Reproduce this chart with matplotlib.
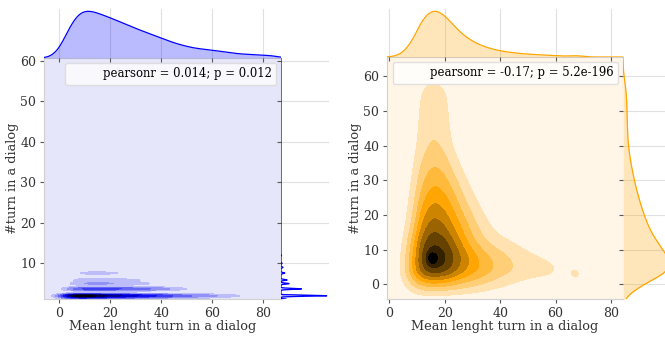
import numpy as np
import matplotlib
matplotlib.use("Agg")
import matplotlib.pyplot as plt
from matplotlib.colors import LinearSegmentedColormap
from matplotlib.lines import Line2D

plt.rcParams['font.family'] = ['DejaVu Serif']

# ---- left panel: weights on a (mean length, #turn) grid ----
left_x = [0, 4, 8, 12, 16, 20, 24, 28, 32, 36, 40, 44, 48, 52, 56, 60, 64, 68, 72, 76, 80, 84]
left_y = [1, 2, 3.7, 5, 5.9, 7.6, 9, 10, 12]
left_w = [
    [0.10, 0.40, 0.50, 0.45, 0.38, 0.34, 0.30, 0.27, 0.24, 0.21, 0.18, 0.15, 0.12, 0.10, 0.08, 0.07, 0.05, 0.03, 0.02, 0.02, 0.01, 0.01],
    [0.20, 0.80, 1.00, 0.92, 0.80, 0.72, 0.66, 0.60, 0.55, 0.50, 0.45, 0.38, 0.33, 0.28, 0.24, 0.21, 0.17, 0.12, 0.08, 0.06, 0.05, 0.04],
    [0.02, 0.25, 0.38, 0.42, 0.42, 0.40, 0.38, 0.35, 0.32, 0.28, 0.24, 0.18, 0.12, 0.06, 0.05, 0.05, 0.05, 0.04, 0.04, 0.04, 0.03, 0.03],
    [0.00, 0.08, 0.18, 0.20, 0.20, 0.19, 0.17, 0.15, 0.12, 0.09, 0.05, 0.03, 0.02, 0.02, 0.02, 0.02, 0.02, 0.02, 0.02, 0.02, 0.02, 0.01],
    [0.00, 0.05, 0.14, 0.16, 0.16, 0.15, 0.13, 0.11, 0.09, 0.05, 0.03, 0.02, 0.02, 0.02, 0.02, 0.02, 0.01, 0.01, 0.01, 0.01, 0.01, 0.01],
    [0.00, 0.01, 0.10, 0.14, 0.14, 0.12, 0.09, 0.03, 0.01, 0.01, 0.01, 0.01, 0.01, 0.01, 0.01, 0.01, 0.01, 0.01, 0.01, 0.01, 0.01, 0.01],
    [0.00, 0.01, 0.03, 0.04, 0.04, 0.04, 0.03, 0.03, 0.02, 0.02, 0.02, 0.01, 0.01, 0.01, 0.01, 0.01, 0.01, 0.01, 0.01, 0.01, 0.01, 0.01],
    [0.00, 0.00, 0.02, 0.03, 0.03, 0.02, 0.02, 0.02, 0.01, 0.01, 0.01, 0.01, 0.01, 0.01, 0.01],
    [0.00, 0.00, 0.01, 0.02, 0.02, 0.02, 0.01, 0.01, 0.01, 0.01],
]
left_stat = "pearsonr = 0.014; p = 0.012"

# ---- right panel ----
right_x = [4, 8, 12, 16, 20, 24, 28, 32, 36, 40, 44, 48, 52, 56, 60, 64]
right_y = [0, 4, 8, 12, 16, 20, 24, 28, 32, 36, 40, 44, 48, 52, 56, 60]
right_w = [
    [0.03, 0.18, 0.30, 0.32, 0.30, 0.27, 0.23, 0.19, 0.15, 0.11, 0.08, 0.05, 0.03, 0.02],
    [0.07, 0.35, 0.70, 0.80, 0.74, 0.60, 0.48, 0.40, 0.33, 0.26, 0.21, 0.18, 0.16, 0.15, 0.13, 0.06],
    [0.05, 0.30, 0.72, 0.85, 0.80, 0.64, 0.50, 0.38, 0.29, 0.23, 0.18, 0.14, 0.11, 0.08, 0.05, 0.02],
    [0.04, 0.26, 0.66, 0.76, 0.70, 0.54, 0.37, 0.25, 0.17, 0.13, 0.10, 0.06, 0.03],
    [0.02, 0.17, 0.54, 0.66, 0.58, 0.45, 0.31, 0.19, 0.11, 0.05, 0.02],
    [0.01, 0.13, 0.45, 0.57, 0.50, 0.37, 0.24, 0.13, 0.06, 0.02],
    [0.01, 0.10, 0.37, 0.48, 0.42, 0.30, 0.17, 0.08, 0.03],
    [0.00, 0.08, 0.30, 0.40, 0.35, 0.23, 0.11, 0.04, 0.01],
    [0.00, 0.06, 0.25, 0.33, 0.28, 0.16, 0.06, 0.02],
    [0.00, 0.04, 0.20, 0.26, 0.22, 0.10, 0.03],
    [0.00, 0.03, 0.16, 0.21, 0.17, 0.05, 0.01],
    [0.00, 0.02, 0.14, 0.19, 0.14, 0.04],
    [0.00, 0.02, 0.13, 0.18, 0.13, 0.03],
    [0.00, 0.01, 0.12, 0.18, 0.12, 0.02],
    [0.00, 0.00, 0.10, 0.17, 0.10, 0.01],
    [0.00, 0.00, 0.02, 0.04, 0.02],
]
# isolated dialog far out in the tail, and the sharp mode
right_out_x = [67.5]
right_out_y = [3]
right_out_w = [0.22]
right_mode_x = [15.5]
right_mode_y = [7.5]
right_mode_w = [0.085]
right_stat = "pearsonr = -0.17; p = 5.2e-196"

xlabel = "Mean lenght turn in a dialog"
ylabel = "#turn in a dialog"


def to_points(xs, ys, table):
    px, py, pw = [], [], []
    for y, row in zip(ys, table):
        for x, w in zip(xs, row):
            if w > 0:
                px.append(x); py.append(y); pw.append(w)
    return px, py, pw


def kde2d(pts, gx, gy):
    X, Y = np.meshgrid(gx, gy)
    z = np.zeros_like(X)
    tot = 0.0
    for x, y, w, bx, by in pts:
        z += w / (2 * np.pi * bx * by) * np.exp(-0.5 * ((X - x) / bx) ** 2 - 0.5 * ((Y - y) / by) ** 2)
        tot += w
    return z / tot


def kde1d(p, w, g, bw):
    d = np.zeros_like(g)
    for v, ww in zip(p, w):
        d += ww * np.exp(-0.5 * ((g - v) / bw) ** 2)
    return d / (np.sqrt(2 * np.pi) * bw * sum(w))


W, H = 665, 339


def box(l, t, w, h):
    return [l / W, 1 - (t + h) / H, w / W, h / H]


fig = plt.figure(figsize=(W / 100, H / 100), dpi=100)

lx, ly, lw = to_points(left_x, left_y, left_w)
rx, ry, rw = to_points(right_x, right_y, right_w)
rx += right_out_x; ry += right_out_y; rw += right_out_w

panels = [
    dict(pts=[(a, b, c, 3.0, 0.35) for a, b, c in zip(lx, ly, lw)],
         mx=lx, my=ly, mw=lw, color='blue',
         cmap=LinearSegmentedColormap.from_list('b', [(0, '#e6e6fa'), (0.6, '#0000f0'), (1, '#000010')]),
         main=(44, 58, 237, 241), top=(44, 9, 237, 49), side=(281, 58, 48, 241),
         xlim=(-6, 87), ylim=(1.2, 60.7), yticks=[10, 20, 30, 40, 50, 60],
         mbw=(3.0, 0.12), stat=left_stat),
    dict(pts=[(a, b, c, 2.5, 2.5) for a, b, c in zip(rx, ry, rw)]
         + [(a, b, c, 1.2, 1.2) for a, b, c in zip(right_mode_x, right_mode_y, right_mode_w)],
         mx=rx, my=ry, mw=rw, color='orange',
         cmap=LinearSegmentedColormap.from_list('o', [(0, '#fff6e8'), (0.45, '#ffa500'), (1, '#000000')]),
         main=(387, 57, 236, 242), top=(387, 9, 236, 48), side=(623, 57, 48, 242),
         xlim=(-0.8, 84.3), ylim=(-4.2, 65.5), yticks=[0, 10, 20, 30, 40, 50, 60],
         mbw=(2.5, 2.5), stat=right_stat),
]

for p in panels:
    cmap = p['cmap']
    ax = fig.add_axes(box(*p['main']))
    axt = fig.add_axes(box(*p['top']), sharex=ax)
    axr = fig.add_axes(box(*p['side']), sharey=ax)

    gx = np.linspace(p['xlim'][0], p['xlim'][1], 300)
    gy = np.linspace(p['ylim'][0], p['ylim'][1], 500)
    z = kde2d(p['pts'], gx, gy)
    levels = np.linspace(0, z.max(), 11)
    cols = [cmap(i / 9) for i in range(10)]
    ax.set_facecolor(cols[0])
    ax.contourf(gx, gy, z, levels=levels, colors=cols)
    ax.set_xlim(*p['xlim'])
    ax.set_ylim(*p['ylim'])
    ax.set_xticks([0, 20, 40, 60, 80])
    ax.set_yticks(p['yticks'])
    ax.tick_params(labelsize=9, length=3, width=0.8, color='0.35', labelcolor='0.2', pad=2.5)
    for s in ax.spines.values():
        s.set_color('0.82')
        s.set_linewidth(0.8)
    ax.set_xlabel(xlabel, fontsize=9.3, color='0.2', labelpad=0)
    ax.set_ylabel(ylabel, fontsize=9.3, color='0.2', labelpad=1)
    ax.legend([Line2D([], [], linestyle='none')], [p['stat']], loc='upper right',
              fontsize=8.4, framealpha=0.8, edgecolor='0.85', borderaxespad=0.4)

    # top marginal (x)
    dx = kde1d(p['mx'], p['mw'], gx, p['mbw'][0])
    axt.fill_between(gx, 0, dx, color=p['color'], alpha=0.27, lw=0, zorder=2)
    axt.plot(gx, dx, color=p['color'], lw=0.9, zorder=3)
    axt.set_ylim(0, dx.max() * 1.05)
    axt.grid(axis='x', color='0.88', lw=0.8)
    axt.set_axisbelow(True)
    axt.tick_params(axis='x', labelbottom=False, length=3, width=0.8, color='0.35')
    axt.tick_params(axis='y', left=False, labelleft=False)
    for s in axt.spines.values():
        s.set_visible(False)

    # side marginal (y)
    gy2 = np.linspace(p['ylim'][0], p['ylim'][1], 1200)
    dy = kde1d(p['my'], p['mw'], gy2, p['mbw'][1])
    axr.fill_betweenx(gy2, 0, dy, color=p['color'], alpha=0.27, lw=0, zorder=2)
    axr.plot(dy, gy2, color=p['color'], lw=0.9, zorder=3)
    axr.set_xlim(0, dy.max() * 1.05)
    axr.grid(axis='y', color='0.88', lw=0.8)
    axr.set_axisbelow(True)
    axr.tick_params(axis='y', labelleft=False, length=3, width=0.8, color='0.35')
    axr.tick_params(axis='x', bottom=False, labelbottom=False)
    for s in axr.spines.values():
        s.set_visible(False)

fig.savefig('out.png', dpi=100)
